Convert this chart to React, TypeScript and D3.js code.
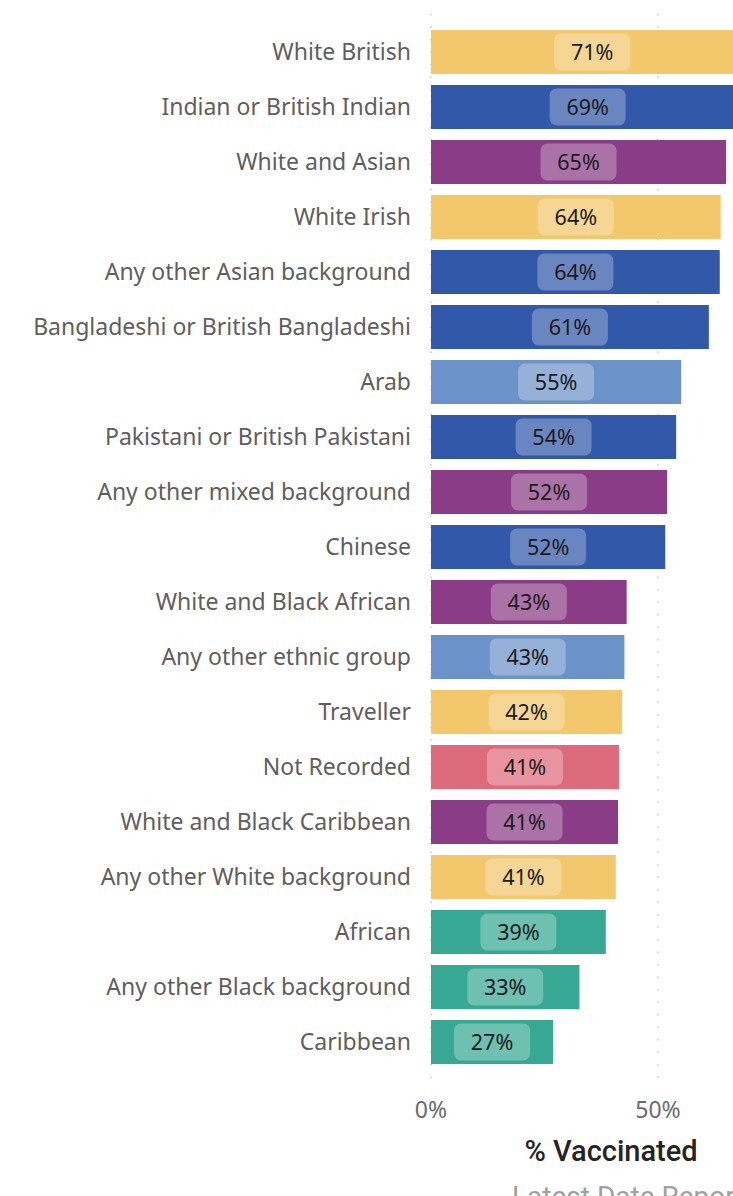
import React from "react";
import * as d3 from "d3";

const categories = [
  "White British",
  "Indian or British Indian",
  "White and Asian",
  "White Irish",
  "Any other Asian background",
  "Bangladeshi or British Bangladeshi",
  "Arab",
  "Pakistani or British Pakistani",
  "Any other mixed background",
  "Chinese",
  "White and Black African",
  "Any other ethnic group",
  "Traveller",
  "Not Recorded",
  "White and Black Caribbean",
  "Any other White background",
  "African",
  "Any other Black background",
  "Caribbean",
];

const values = [71, 69, 65, 63.8, 63.6, 61.2, 55.1, 54, 52, 51.6, 43.1, 42.6, 42.1, 41.4, 41.2, 40.7, 38.5, 32.7, 26.9];

const groups = [
  "White", "Asian", "Mixed", "White", "Asian", "Asian", "Other", "Asian", "Mixed", "Asian",
  "Mixed", "Other", "White", "Unknown", "Mixed", "White", "Black", "Black", "Black",
];

const groupNames = ["White", "Asian", "Mixed", "Other", "Unknown", "Black"];
const groupColors = ["#F3C76B", "#3158A9", "#8A3C86", "#6C93C9", "#DE6B7C", "#37A893"];

const xTicks = [0, 50];

const W = 733;
const H = 1196;

export default function App() {
  const x = d3.scaleLinear().domain([0, 50]).range([431, 658]);
  const y = d3.scaleBand().domain(categories).range([24.5, 1069.5]).paddingInner(0.2).paddingOuter(0.1);
  const color = d3.scaleOrdinal<string, string>().domain(groupNames).range(groupColors);
  const bw = y.bandwidth();

  return (
    <div style={{ position: "absolute", left: 0, top: 0 }}>
      <svg width={W} height={H} style={{ display: "block", fontFamily: "'Noto Sans', sans-serif" }}>
        {xTicks.map((t) => (
          <line key={t} x1={x(t)} x2={x(t)} y1={14} y2={1085} stroke="#c8c8c8" strokeWidth={1.5} strokeDasharray="1.5,11" />
        ))}
        <g>
          {categories.map((c, i) => {
            const v = values[i];
            const yy = y(c)!;
            const cx = (x(0) + x(v)) / 2;
            return (
              <g key={c}>
                <rect x={x(0)} y={yy} width={x(v) - x(0)} height={bw} fill={color(groups[i])} />
                <rect x={cx - 38} y={yy + bw / 2 - 18.5} width={76} height={37} rx={7} fill="#ffffff" fillOpacity={0.28} />
                <text x={cx} y={yy + bw / 2} dy="0.36em" textAnchor="middle" fontSize={21.5} fill="#1a1a1a">
                  {Math.round(v)}%
                </text>
              </g>
            );
          })}
        </g>
        {categories.map((c) => (
          <text key={c} x={411} y={y(c)! + bw / 2} dy="0.35em" textAnchor="end" fontSize={23} fill="#605E5C">
            {c}
          </text>
        ))}
        {xTicks.map((t) => (
          <text key={t} x={x(t)} y={1118} textAnchor="middle" fontSize={23} fill="#6b6b6b">
            {t}%
          </text>
        ))}
        <text x={611} y={1161} textAnchor="middle" fontSize={29} fontWeight={500} fill="#252423" style={{ fontFamily: "Roboto, sans-serif" }}>
          % Vaccinated
        </text>
        <text x={512} y={1206} textAnchor="start" fontSize={28} fill="#a0a0a0" style={{ fontFamily: "Roboto, sans-serif" }}>
          Latest Date Reported
        </text>
      </svg>
    </div>
  );
}
